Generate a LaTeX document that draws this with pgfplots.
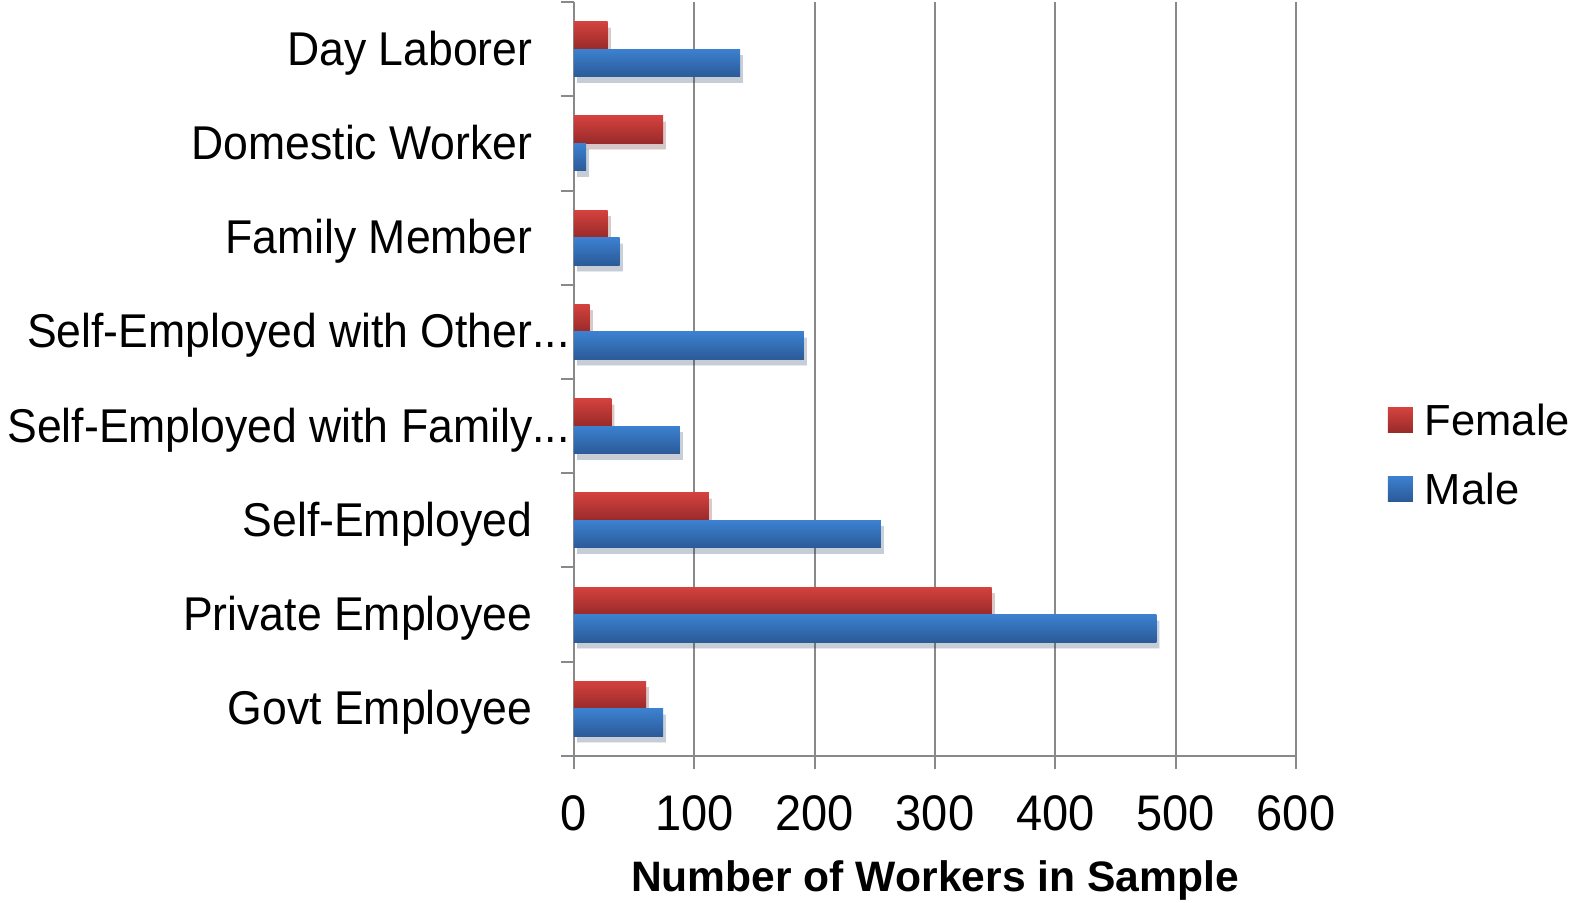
\documentclass[border=0pt]{standalone}
\usepackage{pgfplots}
\pgfplotsset{compat=1.18}
\usepackage{fontspec}
\setmainfont{Liberation Sans}
\newfontfamily\narrowfont[FakeStretch=0.94]{Liberation Sans}
\usetikzlibrary{shadows}
\definecolor{femtop}{RGB}{212,66,62}
\definecolor{fembot}{RGB}{152,42,42}
\definecolor{maletop}{RGB}{60,129,208}
\definecolor{malebot}{RGB}{43,90,152}
\definecolor{gridgray}{RGB}{137,137,137}
\pgfplotsset{
  fem/.style={draw=none, top color=femtop, bottom color=fembot, bar shift=6.875pt, forget plot,
    drop shadow={fill=black, opacity=0.13, shadow xshift=1.5pt, shadow yshift=-3pt}},
  mal/.style={draw=none, top color=maletop, bottom color=malebot, bar shift=-6.875pt, forget plot,
    drop shadow={fill=black, opacity=0.13, shadow xshift=1.5pt, shadow yshift=-3pt}},
}
\begin{document}
\begin{tikzpicture}
\useasboundingbox (-287pt,-73.5pt) rectangle (501pt,378pt);
\begin{axis}[
  at={(0,0)}, anchor=south west,
  scale only axis, width=361pt, height=377pt,
  xbar, bar width=13.75pt,
  xmin=0, xmax=600, ymin=-0.5, ymax=7.5,
  axis x line*=bottom, axis y line*=left,
  axis line style={gridgray, line width=1pt},
  xtick={0,100,...,600},
  xmajorgrids, grid style={gridgray, line width=1pt},
  tick align=outside, major tick length=6.5pt,
  tick style={gridgray, line width=1pt},
  ytick={-0.5,0.5,...,7.5}, yticklabels={},
  extra y ticks={0,1,2,3,4,5,6,7},
  extra y tick labels={Govt Employee, Private Employee, Self-Employed, Self-Employed with Family\rlap{...}, Self-Employed with Other\rlap{...}, Family Member, Domestic Worker, Day Laborer},
  extra y tick style={major tick length=0pt},
  yticklabel style={font=\narrowfont\fontsize{23.7}{27}\selectfont, inner sep=0pt, anchor=base east, xshift=-20.6pt, yshift=-8pt},
  xticklabel style={font=\narrowfont\fontsize{25}{29}\selectfont, inner sep=0pt, anchor=north, yshift=-13pt},
  /pgf/number format/assume math mode=true,
  xlabel={Number of Workers in Sample},
  xlabel style={font=\fontsize{21.3}{25}\selectfont\bfseries, at={(axis description cs:0.5,0)}, anchor=center, yshift=-62pt},
  legend style={draw=none, fill=none, at={(1,0.398)}, xshift=46pt, anchor=west, inner sep=0pt, outer sep=0pt,
    font=\fontsize{21.75}{26}\selectfont, row sep=17pt, nodes={inner sep=0pt},
    /tikz/every odd column/.append style={column sep=6pt}},
  legend cell align=left,
  legend image code/.code={\fill[#1, draw=none] (0pt,-5.5pt) rectangle (12.5pt,7pt);},
]
\addlegendimage{top color=femtop, bottom color=fembot}
\addlegendentry{Female}
\addlegendimage{top color=maletop, bottom color=malebot}
\addlegendentry{Male}
% Female
\addplot[fem] coordinates {(60,0)};
\addplot[fem] coordinates {(347,1)};
\addplot[fem] coordinates {(112,2)};
\addplot[fem] coordinates {(31,3)};
\addplot[fem] coordinates {(13,4)};
\addplot[fem] coordinates {(28,5)};
\addplot[fem] coordinates {(74,6)};
\addplot[fem] coordinates {(28,7)};
% Male
\addplot[mal] coordinates {(74,0)};
\addplot[mal] coordinates {(484,1)};
\addplot[mal] coordinates {(255,2)};
\addplot[mal] coordinates {(88,3)};
\addplot[mal] coordinates {(191,4)};
\addplot[mal] coordinates {(38,5)};
\addplot[mal] coordinates {(10,6)};
\addplot[mal] coordinates {(138,7)};
\end{axis}
\end{tikzpicture}
\end{document}
